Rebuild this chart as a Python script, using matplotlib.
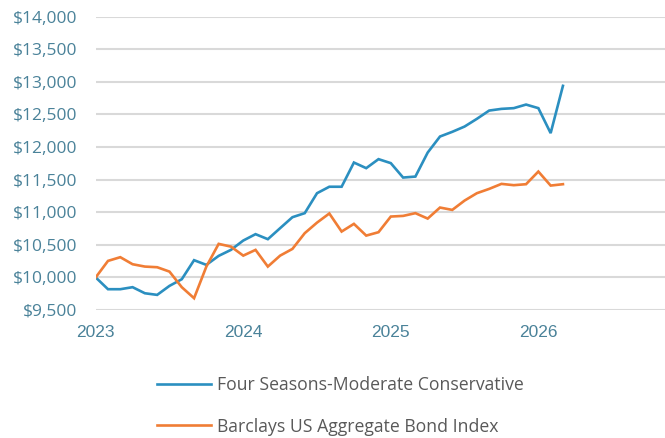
import matplotlib
matplotlib.use('Agg')
import matplotlib.pyplot as plt
from matplotlib.ticker import FuncFormatter

# monthly values, Jan 2023 .. Mar 2026
months = list(range(39))
four_seasons = [10000, 9819, 9819, 9850, 9757, 9732, 9870, 9972, 10264, 10192,
                10330, 10422, 10565, 10663, 10586, 10755, 10923, 10985, 11291, 11390,
                11390, 11761, 11675, 11813, 11752, 11531, 11546, 11914, 12160, 12232,
                12313, 12431, 12558, 12584, 12595, 12650, 12595, 12212, 12937]
barclays = [10000, 10253, 10310, 10202, 10166, 10156, 10089, 9850, 9681, 10166,
            10514, 10472, 10334, 10422, 10166, 10334, 10437, 10678, 10840, 10980,
            10703, 10821, 10641, 10693, 10933, 10943, 10985, 10902, 11071, 11035,
            11178, 11291, 11357, 11434, 11414, 11429, 11623, 11408, 11429]
year_ticks = [0, 12, 24, 36]
year_labels = ['2023', '2024', '2025', '2026']
y_ticks = list(range(9500, 14001, 500))

blue = '#2b8fc0'
orange = '#f07d35'
tick_col = '#4a8299'

fig = plt.figure(figsize=(6.65, 4.38), dpi=100)
ax = fig.add_axes([0.1439, 0.2922, 0.8561, 0.6701])

ax.plot(months, four_seasons, color=blue, lw=1.9, label='Four Seasons-Moderate Conservative',
        solid_joinstyle='miter')
ax.plot(months, barclays, color=orange, lw=1.9, label='Barclays US Aggregate Bond Index',
        solid_joinstyle='miter')

ax.set_xlim(0, 46.3)
ax.set_ylim(9500, 14000)
ax.set_yticks(y_ticks)
ax.yaxis.set_major_formatter(FuncFormatter(lambda v, p: f'${v:,.0f}'))
ax.set_xticks(year_ticks)
ax.set_xticklabels(year_labels, fontfamily='Liberation Sans', fontsize=12.5)
for t in ax.get_yticklabels():
    t.set_fontfamily('Open Sans')
    t.set_fontsize(12.5)

ax.grid(axis='y', color='#d9d9d9', lw=1.5)
ax.set_axisbelow(True)
for s in ax.spines.values():
    s.set_visible(False)
ax.tick_params(axis='both', length=0, colors=tick_col)
ax.tick_params(axis='y', pad=13.5)
ax.tick_params(axis='x', pad=11)

leg = fig.legend(loc='upper left', bbox_to_anchor=(0.225, 0.157), frameon=False,
                 prop={'family': 'Open Sans', 'size': 12.7}, handlelength=3.1,
                 handletextpad=0.3, labelspacing=1.32, borderaxespad=0)
for t in leg.get_texts():
    t.set_color('#595959')

fig.savefig('out.png', dpi=100)
